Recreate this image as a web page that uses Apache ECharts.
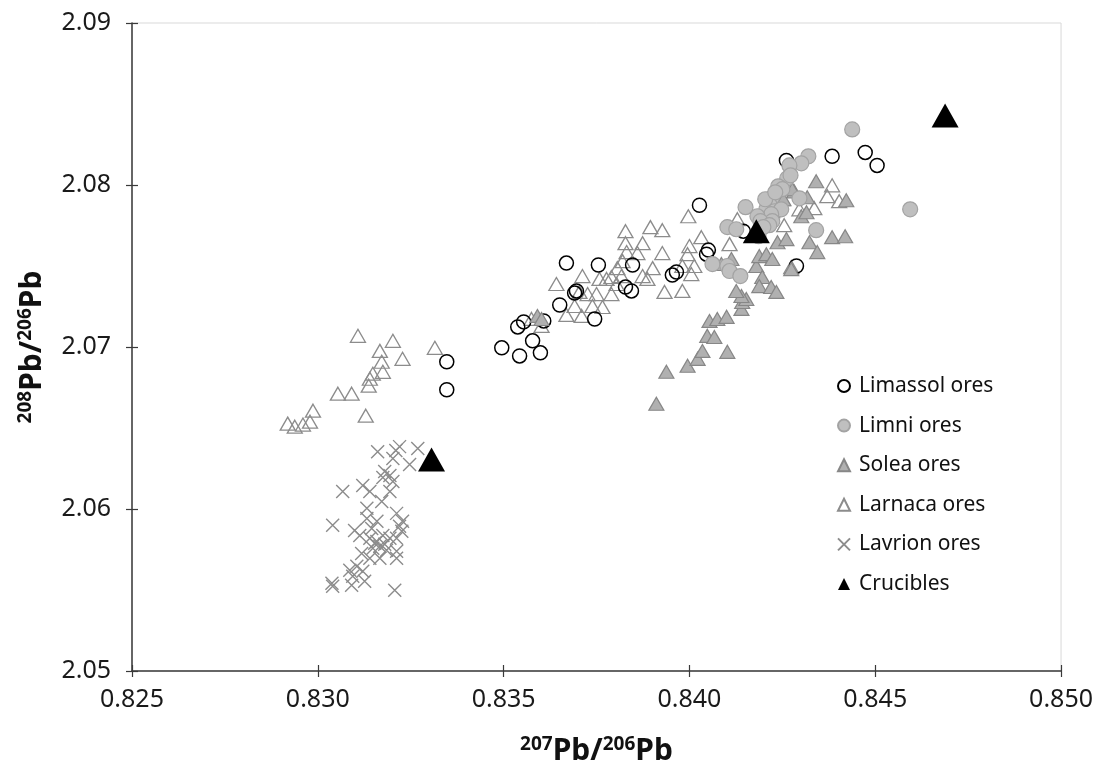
<!DOCTYPE html>
<html>
<head>
<meta charset="utf-8">
<script src="https://cdn.jsdelivr.net/npm/echarts@6/dist/echarts.min.js"></script>
<style>
  html, body { margin: 0; padding: 0; background: #ffffff; }
  #chart { width: 1096px; height: 771px; }
</style>
</head>
<body>
<div id="chart"></div>
<script>
// axis ticks
const xTicks = [0.825, 0.830, 0.835, 0.840, 0.845, 0.850];
const yTicks = [2.05, 2.06, 2.07, 2.08, 2.09];

// [207Pb/206Pb, 208Pb/206Pb]
const limassolOres = [
  [0.83347, 2.06909], [0.83347, 2.06736], [0.83495, 2.06995], [0.83538, 2.07124],
  [0.83543, 2.06945], [0.83554, 2.07155], [0.83578, 2.07038], [0.83599, 2.06964],
  [0.83608, 2.07161], [0.83651, 2.07259], [0.83669, 2.07518], [0.83691, 2.07333],
  [0.83696, 2.07346], [0.83745, 2.07173], [0.83755, 2.07506], [0.83828, 2.07370],
  [0.83844, 2.07346], [0.83847, 2.07506], [0.83954, 2.07444], [0.83965, 2.07463],
  [0.84027, 2.07875], [0.84046, 2.07573], [0.84051, 2.07598], [0.84145, 2.07715],
  [0.84261, 2.08152], [0.84288, 2.07500], [0.84384, 2.08177], [0.84473, 2.08201],
  [0.84505, 2.08121]
];
const limniOres = [
  [0.84438, 2.08343], [0.84594, 2.07850], [0.84320, 2.08177], [0.84301, 2.08134],
  [0.84269, 2.08121], [0.84263, 2.08041], [0.84272, 2.08060], [0.84239, 2.07992],
  [0.84250, 2.07974], [0.84223, 2.07924], [0.84215, 2.07881], [0.84207, 2.07850],
  [0.84229, 2.07838], [0.84247, 2.07850], [0.84151, 2.07863], [0.84220, 2.07820],
  [0.84223, 2.07777], [0.84183, 2.07807], [0.84191, 2.07777], [0.84102, 2.07740],
  [0.84126, 2.07727], [0.84296, 2.07918], [0.84341, 2.07721], [0.84062, 2.07512],
  [0.84102, 2.07500], [0.84108, 2.07469], [0.84137, 2.07438], [0.84186, 2.07684],
  [0.84204, 2.07912], [0.84231, 2.07955], [0.84215, 2.07752], [0.84199, 2.07740]
];
const soleaOres = [
  [0.83911, 2.06650], [0.83938, 2.06847], [0.83995, 2.06884], [0.84022, 2.06927],
  [0.84035, 2.06976], [0.84048, 2.07069], [0.84067, 2.07062], [0.84102, 2.06970],
  [0.84054, 2.07161], [0.84075, 2.07173], [0.84100, 2.07186], [0.84140, 2.07235],
  [0.84142, 2.07278], [0.84153, 2.07296], [0.84140, 2.07315], [0.84126, 2.07346],
  [0.84180, 2.07500], [0.84188, 2.07561], [0.84207, 2.07573], [0.84223, 2.07543],
  [0.84196, 2.07432], [0.84188, 2.07376], [0.84220, 2.07370], [0.84234, 2.07340],
  [0.84237, 2.07647], [0.84261, 2.07666], [0.84274, 2.07481], [0.84323, 2.07647],
  [0.84344, 2.07586], [0.84384, 2.07678], [0.84419, 2.07684], [0.84301, 2.07807],
  [0.84315, 2.07832], [0.84223, 2.07838], [0.84250, 2.07912], [0.84282, 2.07961],
  [0.84341, 2.08023], [0.84422, 2.07906], [0.84317, 2.07924], [0.84277, 2.07974],
  [0.84253, 2.07912], [0.84086, 2.07512], [0.84113, 2.07543], [0.83591, 2.07192],
  [0.83602, 2.07173]
];
const larnacaOres = [
  [0.83108, 2.07069], [0.83202, 2.07038], [0.83167, 2.06976], [0.83228, 2.06927],
  [0.83315, 2.06995], [0.83172, 2.06909], [0.83175, 2.06847], [0.83148, 2.06835],
  [0.83140, 2.06804], [0.83137, 2.06761], [0.83054, 2.06712], [0.83091, 2.06712],
  [0.82987, 2.06607], [0.82979, 2.06539], [0.82919, 2.06527], [0.82938, 2.06508],
  [0.82960, 2.06521], [0.83129, 2.06576],
  [0.83828, 2.07715], [0.83895, 2.07740], [0.83927, 2.07721], [0.83828, 2.07641],
  [0.83874, 2.07641], [0.83831, 2.07586], [0.83860, 2.07580], [0.83927, 2.07580],
  [0.83820, 2.07530], [0.83901, 2.07487], [0.83806, 2.07487], [0.83790, 2.07432],
  [0.83817, 2.07438], [0.83874, 2.07438], [0.83887, 2.07420], [0.83712, 2.07438],
  [0.83642, 2.07389], [0.83758, 2.07420], [0.83777, 2.07420], [0.83804, 2.07389],
  [0.83933, 2.07340], [0.83704, 2.07340], [0.83726, 2.07327], [0.83750, 2.07327],
  [0.83790, 2.07327], [0.83691, 2.07253], [0.83739, 2.07253], [0.83766, 2.07247],
  [0.83669, 2.07198], [0.83710, 2.07192], [0.83602, 2.07130], [0.83575, 2.07173],
  [0.83997, 2.07807], [0.84032, 2.07678], [0.84000, 2.07623], [0.83995, 2.07573],
  [0.84013, 2.07500], [0.83981, 2.07500], [0.84005, 2.07450], [0.83981, 2.07346],
  [0.84108, 2.07635], [0.84129, 2.07789], [0.84255, 2.07752], [0.84336, 2.07857],
  [0.84384, 2.07998], [0.84371, 2.07931], [0.84403, 2.07900], [0.84296, 2.07850],
  [0.84274, 2.07493], [0.84202, 2.07820]
];
const lavrionOres = [
  [0.83161, 2.06354], [0.83210, 2.06361], [0.83220, 2.06385], [0.83269, 2.06373],
  [0.83202, 2.06311], [0.83247, 2.06274], [0.83180, 2.06231], [0.83194, 2.06207],
  [0.83175, 2.06194], [0.83202, 2.06170], [0.83067, 2.06108], [0.83121, 2.06145],
  [0.83140, 2.06108], [0.83194, 2.06108], [0.83172, 2.06047], [0.83132, 2.06004],
  [0.83212, 2.05973], [0.83040, 2.05899], [0.83099, 2.05868], [0.83132, 2.05942],
  [0.83159, 2.05924], [0.83228, 2.05924], [0.83113, 2.05837], [0.83140, 2.05819],
  [0.83159, 2.05800], [0.83175, 2.05837], [0.83194, 2.05819], [0.83212, 2.05819],
  [0.83226, 2.05862], [0.83148, 2.05757], [0.83185, 2.05745], [0.83212, 2.05739],
  [0.83140, 2.05696], [0.83167, 2.05696], [0.83212, 2.05696], [0.83105, 2.05646],
  [0.83086, 2.05622], [0.83121, 2.05616], [0.83094, 2.05585], [0.83038, 2.05542],
  [0.83040, 2.05523], [0.83091, 2.05529], [0.83126, 2.05554], [0.83207, 2.05499],
  [0.83153, 2.05788], [0.83167, 2.05770], [0.83180, 2.05782], [0.83145, 2.05880],
  [0.83118, 2.05726], [0.83220, 2.05893]
];
const crucibles = [
  [0.83306, 2.06305], [0.84180, 2.07715], [0.84688, 2.08429]
];

const legendNames = ["Limassol ores", "Limni ores", "Solea ores", "Larnaca ores", "Lavrion ores", "Crucibles"];

const FONT = "'Noto Sans', 'Open Sans', sans-serif";
const crossPath = "path://M0,0L10,10M10,0L0,10";

const chart = echarts.init(document.getElementById("chart"));

const titleRich = {
  sup: { fontSize: 19, fontWeight: "bold", fontFamily: FONT, color: "#111111", verticalAlign: "top", padding: [0, 0, 13, 0] },
  b: { fontSize: 30, fontWeight: "bold", fontFamily: FONT, color: "#111111" }
};

const option = {
  animation: false,
  backgroundColor: "#ffffff",
  grid: {
    left: 132, right: 34, top: 23, bottom: 98,
    show: true, borderColor: "#d9d9d9", borderWidth: 1
  },
  legend: {
    data: legendNames,
    orient: "vertical",
    left: 832,
    top: 370,
    itemGap: 17.6,
    itemWidth: 12,
    itemHeight: 12,
    textStyle: { fontSize: 21, fontFamily: FONT, color: "#111111", lineHeight: 22, padding: [0, 0, 0, 4] }
  },
  xAxis: [{
    type: "value",
    min: xTicks[0], max: xTicks[xTicks.length - 1], interval: 0.005,
    splitLine: { show: false },
    axisLine: { lineStyle: { color: "#3a3a3a", width: 1.5 } },
    axisTick: { inside: false, length: 6, lineStyle: { color: "#3a3a3a", width: 1.2 } },
    axisLabel: { fontSize: 25, fontFamily: FONT, color: "#1a1a1a", margin: 16, formatter: v => v.toFixed(3) },
    name: "{sup|207}{b|Pb/}{sup|206}{b|Pb}",
    nameLocation: "middle",
    nameGap: 64,
    nameTextStyle: { rich: titleRich }
  }, {
    type: "value",
    position: "bottom",
    min: xTicks[0], max: xTicks[xTicks.length - 1], interval: 0.005,
    splitLine: { show: false },
    axisLine: { show: false },
    axisTick: { inside: true, length: 6, lineStyle: { color: "#3a3a3a", width: 1.2 } },
    axisLabel: { show: false }
  }],
  yAxis: [{
    type: "value",
    min: yTicks[0], max: yTicks[yTicks.length - 1], interval: 0.01,
    splitLine: { show: false },
    axisLine: { lineStyle: { color: "#3a3a3a", width: 1.5 } },
    axisTick: { inside: false, length: 6, lineStyle: { color: "#3a3a3a", width: 1.2 } },
    axisLabel: { fontSize: 25, fontFamily: FONT, color: "#1a1a1a", margin: 21, formatter: v => v.toFixed(2) },
    name: "{sup|208}{b|Pb/}{sup|206}{b|Pb}",
    nameLocation: "middle",
    nameRotate: 90,
    nameGap: 84,
    nameTextStyle: { rich: titleRich }
  }, {
    type: "value",
    position: "left",
    min: yTicks[0], max: yTicks[yTicks.length - 1], interval: 0.01,
    splitLine: { show: false },
    axisLine: { show: false },
    axisTick: { inside: true, length: 6, lineStyle: { color: "#3a3a3a", width: 1.2 } },
    axisLabel: { show: false }
  }],
  series: [
    {
      name: "Larnaca ores", type: "scatter", data: larnacaOres,
      symbol: "triangle", symbolSize: [15, 13],
      itemStyle: { color: "rgba(255,255,255,0)", borderColor: "#8c8c8c", borderWidth: 1.3, opacity: 1 }
    },
    {
      name: "Limassol ores", type: "scatter", data: limassolOres,
      symbol: "circle", symbolSize: 14,
      itemStyle: { color: "rgba(255,255,255,0)", borderColor: "#000000", borderWidth: 1.5, opacity: 1 }
    },
    {
      name: "Solea ores", type: "scatter", data: soleaOres,
      symbol: "triangle", symbolSize: [15, 13],
      itemStyle: { color: "#b0b0b0", borderColor: "#878787", borderWidth: 1.2, opacity: 1 }
    },
    {
      name: "Limni ores", type: "scatter", data: limniOres,
      symbol: "circle", symbolSize: 15,
      itemStyle: { color: "#bfbfbf", borderColor: "#a3a3a3", borderWidth: 1.2, opacity: 1 }
    },
    {
      name: "Lavrion ores", type: "scatter", data: lavrionOres,
      symbol: crossPath, symbolSize: 13,
      itemStyle: { color: "rgba(0,0,0,0)", borderColor: "#8c8c8c", borderWidth: 1.4, opacity: 1 }
    },
    {
      name: "Crucibles", type: "scatter", data: crucibles,
      symbol: "triangle", symbolSize: [27, 24],
      itemStyle: { color: "#000000", borderColor: "#000000", borderWidth: 0, opacity: 1 }
    }
  ]
};

chart.setOption(option);
</script>
</body>
</html>
